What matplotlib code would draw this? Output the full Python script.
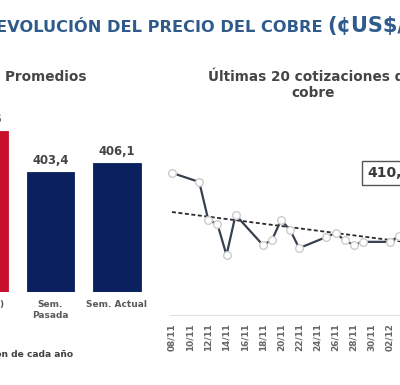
import matplotlib
matplotlib.use("Agg")
import matplotlib.pyplot as plt
import matplotlib.dates as mdates
import numpy as np
import pandas as pd

plt.rcParams['font.family'] = ['DejaVu Sans']
plt.rcParams['font.weight'] = 'bold'

# ---------------- data ----------------
bar_categories = ["2024 (*)", "Sem.\nPasada", "Sem. Actual"]
bar_values = [415.6, 403.4, 406.1]
bar_colors = ["#C8102E", "#0B215F", "#0B215F"]

quote_dates = ["2024-11-08", "2024-11-11", "2024-11-12", "2024-11-13", "2024-11-14",
               "2024-11-15", "2024-11-18", "2024-11-19", "2024-11-20", "2024-11-21",
               "2024-11-22", "2024-11-25", "2024-11-26", "2024-11-27", "2024-11-28",
               "2024-11-29", "2024-12-02", "2024-12-03", "2024-12-04", "2024-12-05"]
quote_values = [422.4, 419.8, 408.9, 407.8, 398.9, 410.4, 401.8, 403.2, 408.9, 406.1,
                400.9, 404.1, 405.2, 403.2, 401.8, 402.7, 402.7, 404.4, 406.9, 410.4]

title_main = "EVOLUCIÓN DEL PRECIO DEL COBRE "
title_unit = "(¢US$/lb)"
title_left = "Precios Promedios"
title_right = "Últimas 20 cotizaciones del\ncobre"
footnote = "(*) Promedio a la fecha de cotización de cada año"

# ---------------- layout helpers ----------------
W, H = 400, 385
fig = plt.figure(figsize=(W / 100, H / 100), dpi=100)
fig.patch.set_facecolor("white")

def fx(px):
    return px / W

def fy(py):
    return (H - py) / H

def axes_px(left, top, right, bottom):
    return fig.add_axes([fx(left), fy(bottom), (right - left) / W, (bottom - top) / H])

# ---------------- titles ----------------
fig.text(fx(-4), fy(27), title_main, fontsize=11.7, fontweight='bold',
         color="#2F5B8C", ha='left', va='center')
fig.text(fx(327), fy(26), title_unit, fontsize=15, fontweight='bold',
         color="#2F5B8C", ha='left', va='center')

fig.text(fx(87), fy(77), title_left, fontsize=9.8, fontweight='bold',
         color="#454545", ha='right', va='center')
fig.text(fx(313), fy(85), title_right, fontsize=9.8, fontweight='bold',
         color="#454545", ha='center', va='center', linespacing=1.15)

fig.text(fx(73), fy(354), footnote, fontsize=6.6, fontweight='bold',
         color="#404040", ha='right', va='center')

# ---------------- bar chart ----------------
axb = axes_px(-49.25, 100, 150.25, 292)
xb = np.arange(len(bar_values))
axb.bar(xb, bar_values, width=0.707, color=bar_colors,
        edgecolor=bar_colors, linewidth=0.6)
axb.set_xlim(-0.5, 2.5)
axb.set_ylim(367.4, 425.0)
for s in axb.spines.values():
    s.set_visible(False)
axb.set_yticks([])
axb.set_xticks(xb)
axb.set_xticklabels(bar_categories, fontsize=6.5, fontweight='bold', color="#5a5a5a",
                    linespacing=1.25)
axb.tick_params(axis='x', length=0, pad=6)
for x, v in zip(xb, bar_values):
    axb.annotate(f"{v:.1f}".replace(".", ","), xy=(x, v), xytext=(0, 5),
                 textcoords='offset pixels', ha='center', va='bottom',
                 fontsize=8.4, fontweight='bold', color="#454545")

# ---------------- line chart ----------------
axl = axes_px(160, 110, 440, 315)
dates = pd.to_datetime(quote_dates)
dnum = mdates.date2num(dates)
vals = np.array(quote_values)

d0 = dnum[0]
axl.set_xlim(d0 - 1.32, d0 + 29.5)
axl.set_ylim(381.8, 440.37)

# trend line (least squares over the quotes)
coef = np.polyfit(dnum - d0, vals, 1)
trend = np.polyval(coef, dnum - d0)
axl.plot(dnum, trend, color="#2b2b2b", lw=1.3, linestyle=(0, (2.2, 1.4)), zorder=2)

axl.plot(dnum, vals, color="#36404f", lw=1.6, marker='o', markersize=5.5,
         markerfacecolor='white', markeredgecolor='#cccccc', markeredgewidth=1.0,
         zorder=3)

ticks = pd.date_range(dates[0], periods=15, freq='2D')
axl.set_xticks(mdates.date2num(ticks))
axl.set_xticklabels([t.strftime("%d/%m") for t in ticks], rotation=90,
                    fontsize=6.4, fontweight='bold', color="#666666")
axl.tick_params(axis='x', length=0, pad=6)
axl.set_yticks([])
for k, s in axl.spines.items():
    s.set_visible(k == 'bottom')
axl.spines['bottom'].set_color("#e0e0e0")
axl.spines['bottom'].set_linewidth(0.8)
axl.spines['bottom'].set_bounds(d0 - 0.2, d0 + 29.5)

axl.annotate(f"{vals[-1]:.1f}".replace(".", ","), xy=(dnum[-1], vals[-1]),
             xytext=(-28, 42), textcoords='offset pixels', ha='center', va='center',
             fontsize=10, fontweight='bold', color="#3a3a3a",
             bbox=dict(boxstyle='square,pad=0.35', fc='white', ec='#555555', lw=1.0))

fig.savefig("out.png", dpi=100, facecolor="white")
